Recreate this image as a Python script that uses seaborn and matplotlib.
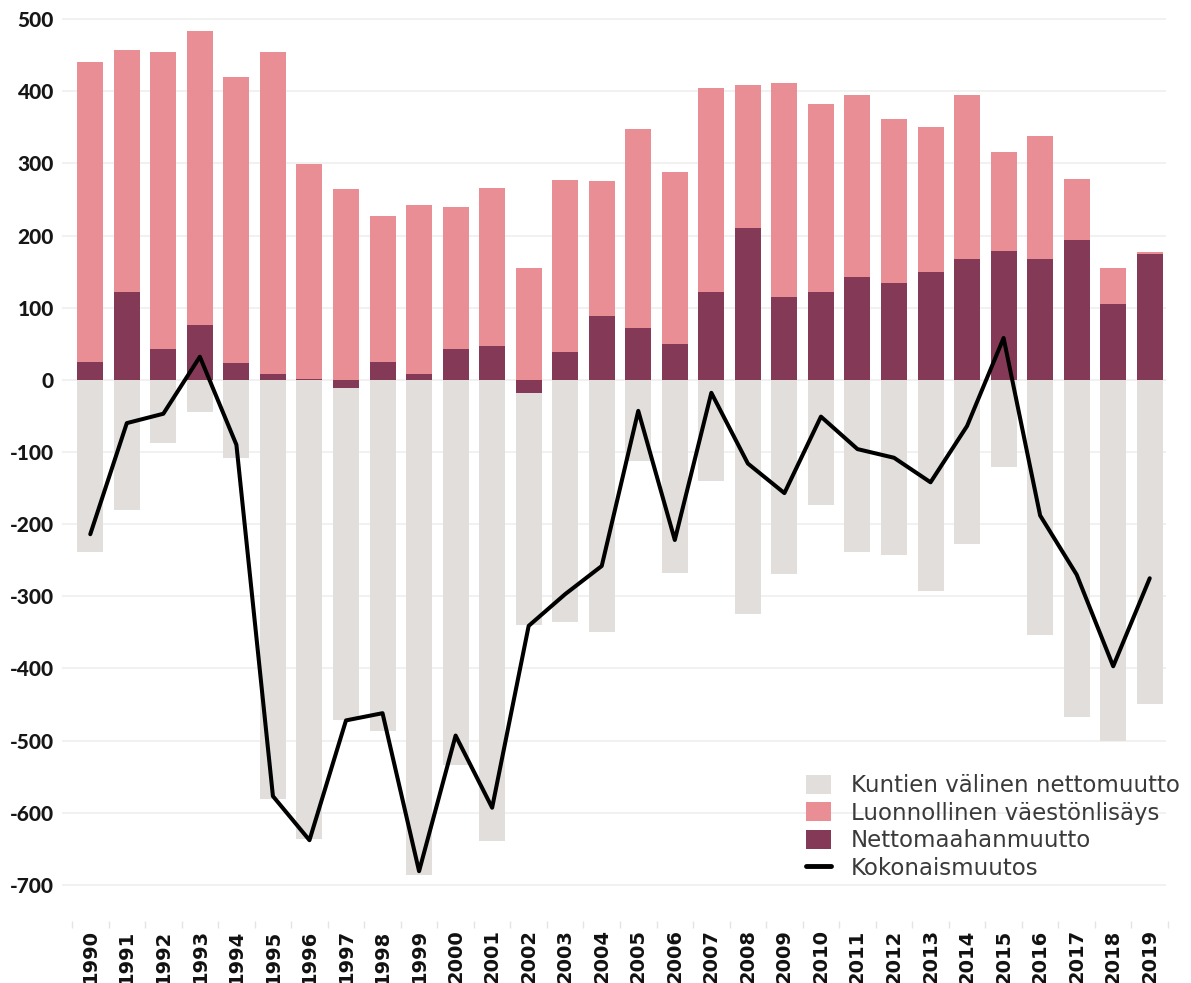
import numpy as np
import pandas as pd
import matplotlib
matplotlib.use("Agg")
import matplotlib.pyplot as plt
import seaborn as sns
from matplotlib.patches import Patch
from matplotlib.lines import Line2D

# ---- data ----
years = [str(y) for y in range(1990, 2020)]
kuntien_valinen = [-239, -180, -88, -44, -109, -581, -636, -471, -487, -686,
                   -534, -639, -340, -336, -349, -113, -268, -140, -325, -269,
                   -174, -238, -243, -292, -228, -121, -354, -467, -501, -449]
luonnollinen = [416, 335, 412, 407, 397, 447, 298, 264, 202, 234,
                197, 219, 155, 238, 187, 276, 239, 282, 199, 296,
                260, 253, 227, 201, 227, 138, 170, 85, 50, 2]
maahanmuutto = [25, 122, 43, 76, 23, 8, 1, -11, 25, 8,
                43, 47, -18, 39, 89, 72, 49, 122, 210, 115,
                122, 142, 134, 150, 168, 178, 168, 194, 105, 175]
kokonais = [-214, -60, -47, 32, -90, -577, -638, -472, -462, -681,
            -493, -593, -341, -297, -258, -43, -222, -18, -116, -157,
            -51, -96, -108, -142, -64, 58, -188, -270, -397, -275]
y_ticks = list(range(-700, 501, 100))
legend_labels = ["Kuntien välinen nettomuutto", "Luonnollinen väestönlisäys",
                 "Nettomaahanmuutto", "Kokonaismuutos"]

GREY = "#E1DEDB"
PINK = "#E98E94"
DARK = "#843A56"

df = pd.DataFrame({"vuosi": years, "kuntien": kuntien_valinen,
                   "luonnollinen": luonnollinen, "maahanmuutto": maahanmuutto,
                   "kokonais": kokonais})
# natural increase stacked on top of positive net immigration
df["pink_top"] = df["maahanmuutto"].clip(lower=0) + df["luonnollinen"]

sns.set_style("white")
plt.rcParams["font.family"] = ["DejaVu Sans"]

W, H = 1191, 983
fig = plt.figure(figsize=(W / 100, H / 100), dpi=100)
ax = fig.add_axes([72 / W, 62 / H, 1096 / W, 920 / H])

bw = 0.71
sns.barplot(data=df, x="vuosi", y="kuntien", color=GREY, saturation=1,
            width=bw, linewidth=0, ax=ax, zorder=2)
sns.barplot(data=df, x="vuosi", y="pink_top", color=PINK, saturation=1,
            width=bw, linewidth=0, ax=ax, zorder=3)
sns.barplot(data=df, x="vuosi", y="maahanmuutto", color=DARK, saturation=1,
            width=bw, linewidth=0, ax=ax, zorder=4)
sns.lineplot(x=np.arange(len(years)), y=df["kokonais"].values, color="black",
             linewidth=2.9, ax=ax, zorder=6)

ax.set_xlim(-0.5, len(years) - 0.5)
ax.set_ylim(-750, 525)

# horizontal gridlines
ax.hlines(y_ticks, -0.78, len(years) - 0.55, colors="#EDEDED", linewidth=1.1,
          zorder=0, clip_on=False)

ax.set_yticks(y_ticks)
ax.set_yticklabels([str(v) for v in y_ticks], fontfamily="Lato",
                   fontweight="black", fontsize=15, color="#161616")
ax.tick_params(axis="y", length=0, pad=13)

ax.set_xticks(np.arange(len(years)))
ax.set_xticklabels(years, rotation=90, ha="center", va="top",
                   fontfamily="DejaVu Sans", fontweight="bold", fontsize=14,
                   color="#111111")
ax.set_xticks(np.arange(-0.5, len(years), 1.0), minor=True)
ax.tick_params(axis="x", which="major", length=0, pad=6)
ax.tick_params(axis="x", which="minor", bottom=True, length=5, width=1,
               color="#E4E4E4", direction="out")

ax.set_xlabel("")
ax.set_ylabel("")
for s in ax.spines.values():
    s.set_visible(False)

handles = [Patch(facecolor=GREY, edgecolor="none"),
           Patch(facecolor=PINK, edgecolor="none"),
           Patch(facecolor=DARK, edgecolor="none"),
           Line2D([0], [0], color="black", linewidth=3.5)]
leg = fig.legend(handles, legend_labels, loc="upper left",
                 bbox_to_anchor=(806 / W, 1 - 774 / H), frameon=False,
                 borderpad=0, borderaxespad=0, handlelength=1.1,
                 handleheight=0.9, handletextpad=0.85, labelspacing=0.2,
                 prop={"family": "DejaVu Sans", "size": 16.5})
for t in leg.get_texts():
    t.set_color("#3A3A3A")

fig.savefig("out.png", dpi=100)
